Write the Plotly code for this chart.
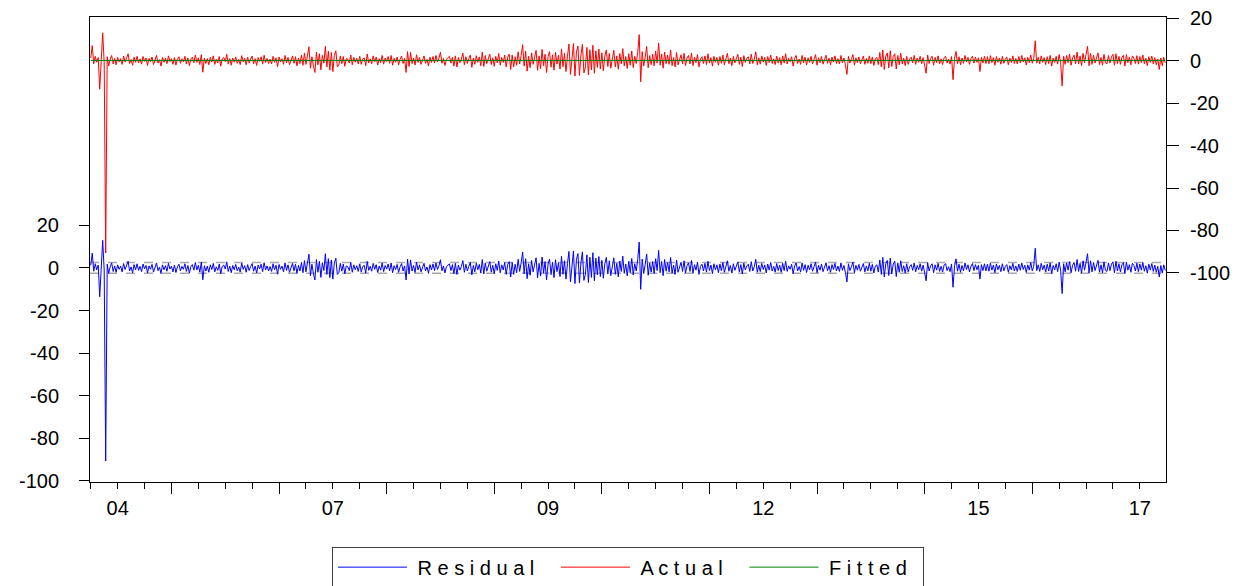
import plotly.graph_objects as go

# ---------------- data ----------------
# Actual series (right axis), one value per sampled observation, left to right
actual = [
    1.2, 7.0, -1.5, 2.0, -0.8, 1.4, -13.5, 2.2, 13.0, -1.0, -90.6, 1.8, -2.5, 0.6, 2.4, -1.6, 1.0, -2.0, 1.5, -0.6,
    0.9, -1.8, 2.1, -0.7, 1.3, 3.2, -1.4, 0.5, -2.2, 1.6, -0.9, 2.0, -1.1, 0.8, -1.7, 1.9, -0.4, 1.2, -2.3, 1.0,
    -0.6, 1.7, -1.9, 0.7, 2.4, -1.2, 0.4, -2.6, 1.5, -0.8, 1.1, -1.5, 2.2, -0.5, 0.9, -1.8, 1.4, -2.1, 0.6, 1.8,
    -1.3, 0.8, -0.6, 2.0, -1.6, 1.2, -2.4, 0.7, 1.6, -1.0, 2.6, -0.9, 1.3, -1.9, 2.8, -5.5, 1.1, -1.4, 0.9, -2.0,
    1.5, -0.7, 2.2, -1.8, 0.6, -1.1, 1.9, -2.7, 0.8, 1.4, -0.5, 2.9, -1.6, 0.9, -2.2, 1.2, -0.8, 1.7, -1.3, 0.5,
    -1.9, 2.3, -0.6, 1.1, -2.0, 1.6, -1.2, 0.7, 2.1, -1.5, 0.9, -2.3, 1.4, -0.4, 1.8, -1.7, 2.5, -0.9, 1.0, -1.4,
    0.7, -1.6, 2.0, -0.8, 1.3, -2.9, 1.7, -0.6, 0.9, -1.8, 2.4, -1.1, 1.5, -2.0, 0.6, 2.2, -1.3, 1.8, -2.5, 1.2,
    -1.4, 2.6, -2.2, 3.5, -1.8, 2.9, 6.5, -3.6, 1.8, -2.6, -5.6, 4.0, -2.0, 3.2, -4.4, 2.5, -1.2, 6.7, -3.0, 4.4,
    -4.5, 3.8, -5.2, 2.4, 4.6, -3.0, -2.2, 2.2, -1.5, 1.9, -2.7, 1.0, 0.6, -1.2, 2.6, -2.0, 1.5, -0.8, 1.1, -1.6,
    2.0, -1.8, 0.7, 1.3, -2.4, 3.1, -1.1, 0.8, -1.5, 2.2, -0.6, 1.6, -2.1, 0.9, -1.0, 2.4, -1.7, 1.2, -0.5, 1.9,
    -1.3, 2.4, -2.2, 1.1, -0.8, 1.7, -2.0, 0.6, 2.1, -1.4, 1.0, -5.6, 4.2, -2.8, 3.8, -1.4, 1.2, -2.1, 2.7, -0.9,
    1.5, -1.8, 0.8, 2.2, -1.3, 0.5, -2.5, 1.6, -0.9, 1.9, -1.2, 2.4, -0.7, 1.1, 3.9, -1.3, 1.0, -2.3, 0.6, 1.4,
    2.0, -1.2, 1.6, -2.6, 2.2, -3.0, 1.4, -1.0, 0.7, 3.5, -2.0, 1.8, -1.4, 0.9, 2.6, -3.2, 1.2, -1.8, 2.3, -0.8,
    1.7, -2.4, 4.0, -2.8, 2.4, -1.5, 0.8, 3.0, -1.9, 1.3, -2.7, 2.0, -1.1, 3.3, -2.2, 1.5, -0.9, 2.6, -3.0, 1.6,
    3.0, -4.2, 2.6, -3.0, 1.8, -2.2, 4.1, -1.6, 2.4, 7.5, -2.6, 4.4, -5.0, 2.0, -3.4, 3.6, -1.8, 1.2, 4.8, -4.6,
    2.2, -3.8, 5.2, -2.4, 3.0, -5.6, 1.9, 4.2, -3.1, 2.7, -4.5, 3.9, -1.7, 2.5, -4.0, 5.5, -2.9, 3.4, -5.2, 2.1,
    7.8, -6.5, 3.2, 8.0, -7.3, 4.1, 6.8, -7.0, 2.5, 7.6, -5.8, -3.0, 6.2, -6.8, 5.1, -4.4, 7.2, -6.0, 4.6, -3.2,
    5.4, -4.0, 3.6, -4.8, 2.1, 5.0, -2.8, 3.4, -3.6, 1.8, 4.8, -3.0, 2.2, -4.1, 3.3, -1.6, 5.6, -2.5, 1.9, -3.7,
    3.2, -2.2, 4.5, -3.3, 2.0, -1.4, 3.9, 12.2, -10.0, 4.2, -2.6, 1.7, 6.6, -3.4, 2.3, -1.9, 3.0, -2.5, 4.4, -1.2,
    8.3, -2.2, 3.1, -3.6, 4.0, -1.5, 2.6, -1.8, 5.0, -2.4, 1.4, -3.0, 3.8, -2.0, 0.9, 2.7, -1.6, 3.4, -2.3, 1.1,
    2.4, -1.6, 3.6, -2.4, 1.6, -1.0, 2.8, -3.0, 0.7, 1.8, -1.4, 2.2, -1.9, 3.2, -1.2, 1.4, -2.6, 2.0, -0.8, 1.5,
    -2.2, 1.9, -1.3, 2.6, -2.0, 0.8, 3.4, -1.5, 1.2, -2.4, 2.0, -1.1, 0.5, 2.9, -1.8, 1.6, -2.8, 2.3, -0.9, 1.0,
    1.8, -1.6, 3.0, -1.4, 0.6, 4.1, -2.0, 1.3, -1.7, 2.2, -0.7, 1.5, -2.3, 1.9, -1.0, 2.6, -1.4, 0.8, -1.9, 2.1,
    -1.2, 1.4, -2.0, 2.2, -1.2, 3.2, -1.6, 1.0, -0.6, 1.8, -2.6, 1.0, 2.4, -1.4, 0.7, -1.8, 2.4, -1.1, 1.6, -2.1,
    1.3, -0.9, 2.0, -1.5, 0.6, 2.8, -2.2, 1.3, -1.0, 1.9, -1.7, 0.8, 2.5, -1.3, 1.1, -2.0, 1.6, -0.7, 2.2, -1.4,
    0.9, -1.6, 2.4, -1.1, 1.2, -2.2, -6.5, 2.0, -1.2, 0.6, 2.8, -2.2, 1.3, -1.0, 1.7, -1.5, 0.8, 2.1, -1.8, 1.0,
    -1.3, 2.2, -1.5, 1.7, -2.3, 0.9, 1.5, -1.9, 3.8, -3.0, 5.0, -4.2, 2.1, 3.6, -3.5, 4.6, -2.8, 1.9, 3.2, -4.0,
    2.4, -2.0, 3.4, -1.6, 1.1, -2.4, 2.0, -1.8, 0.7, 1.6, -1.1, 2.4, -1.8, 1.2, -0.8, 2.0, -1.5, 1.4, -2.2, -6.0,
    2.6, -1.4, 1.0, 2.0, -2.2, 1.5, -1.0, 2.2, -1.6, 0.8, -1.9, 1.3, 2.1, -1.2, 0.6, -1.7, 1.9, -9.0, 1.1, 4.3,
    -1.5, 1.8, -2.0, 1.2, -1.3, 2.4, -0.7, 1.5, -1.8, 0.9, 2.1, -1.2, 1.6, -0.8, 1.3, -5.2, 1.6, -1.2, 2.0, -1.4,
    1.8, -1.5, 2.3, -1.0, 1.4, -2.2, 1.9, -0.8, 1.2, -1.7, 2.0, -1.3, 0.7, 1.6, -2.0, 1.1, -0.9, 2.2, -1.4, 1.0,
    -1.6, 1.9, -1.1, 2.4, -0.7, 1.3, -2.1, 1.5, -1.0, 2.6, -1.3, 0.9, 9.3, -1.2, 1.5, -1.6, 2.2, -0.8, 1.4, -1.9,
    1.8, -1.4, 2.4, -2.6, 1.2, -0.9, 2.0, -1.7, 2.8, -1.0, -12.0, 2.0, -1.8, 2.4, -1.0, 3.0, -2.2, 1.3, 2.6, -1.5,
    4.0, -1.6, 2.2, -2.4, 3.4, -1.0, 2.8, 6.7, -2.4, 3.4, -1.8, 2.6, -1.2, 2.0, 3.6, -1.9, 1.5, -2.2, 2.9, -1.1,
    -1.6, 2.4, -1.2, 1.8, 2.9, -2.2, 3.2, -1.4, 2.0, -1.8, 1.5, 2.5, -2.6, 2.8, -1.0, 1.6, -2.0, 2.2, 1.2, -1.4,
    2.3, -1.7, 1.9, -1.0, 2.6, -1.5, 1.1, -2.4, 1.8, -0.9, 2.1, -1.6, 1.4, -2.0, 0.8, -4.2, 1.2, -2.4, 1.5, -1.1,
]
fitted_level = 0.05          # fitted value (flat, constant mean)
resid_se = 2.5               # +/- one standard error band of residuals

x_tick_text = ["04", "07", "09", "12", "15", "17"]
x_tick_obs = [18, 162, 306, 450, 594, 702]

y_left_ticks = [-100, -80, -60, -40, -20, 0, 20]
y_right_ticks = [-100, -80, -60, -40, -20, 0, 20]

series_names = ["Residual", "Actual", "Fitted"]

# ---------------- derived series ----------------
n = len(actual)
obs = list(range(n))
fitted = [fitted_level] * n
residual = [a - f for a, f in zip(actual, fitted)]

minor_step = 18
all_ticks = list(range(0, n, minor_step))
long_ticks = [t for t in all_ticks if (t - 54) % 72 == 0 and t not in x_tick_obs]
major_ticks = [t for t in all_ticks if t not in long_ticks]
major_text = [x_tick_text[x_tick_obs.index(t)] if t in x_tick_obs else "" for t in major_ticks]


def spaced(s, trail=3):
    return "\u00a0" + " ".join(s) + "\u00a0" * trail


def hyph(v):
    return str(v).replace("\u2212", "-")


FONT = "Liberation Sans, Arial, Helvetica, sans-serif"

fig = go.Figure()
fig.add_trace(go.Scatter(x=obs, y=residual, mode="lines", name=spaced(series_names[0]),
                         line=dict(color="#0000FF", width=1), yaxis="y"))
fig.add_trace(go.Scatter(x=obs, y=actual, mode="lines", name=spaced(series_names[1]),
                         line=dict(color="#FF0000", width=1), yaxis="y2"))
fig.add_trace(go.Scatter(x=obs, y=fitted, mode="lines", name=spaced(series_names[2], 2),
                         line=dict(color="#008000", width=1), yaxis="y2"))

for lvl in (resid_se, -resid_se):
    fig.add_shape(type="line", xref="x", yref="y", x0=-0.5, x1=n - 0.5, y0=lvl, y1=lvl,
                  line=dict(color="#A8A8A8", width=1.5, dash="dash"), layer="below")

fig.update_layout(
    width=1244, height=586,
    margin=dict(l=90, r=78, t=17, b=104, autoexpand=False),
    paper_bgcolor="white", plot_bgcolor="white",
    font=dict(family=FONT, size=20, color="black"),
    showlegend=True,
    legend=dict(orientation="h", x=0.5, xanchor="center", y=-0.139, yanchor="top",
                bordercolor="#404040", borderwidth=1, bgcolor="white",
                font=dict(family=FONT, size=20, color="black"), itemwidth=69,
                traceorder="normal"),
    xaxis=dict(range=[-0.5, n - 0.5], showgrid=False, zeroline=False, automargin=False,
               showline=True, linecolor="black", linewidth=1, mirror=True,
               ticks="outside", ticklen=6, tickcolor="black", tickwidth=1,
               tickmode="array", tickvals=major_ticks, ticktext=major_text,
               tickfont=dict(size=20), ticklabelstandoff=2,
               minor=dict(tickmode="array", tickvals=long_ticks, ticks="outside",
                          ticklen=11, tickcolor="black", tickwidth=1, showgrid=False)),
    yaxis=dict(range=[-100.5, 117.8], showgrid=False, zeroline=False, automargin=False,
               showline=True, linecolor="black", linewidth=1,
               ticks="outside", ticklen=10, tickcolor="black", ticklabelstandoff=16,
               tickmode="array", tickvals=y_left_ticks,
               ticktext=[hyph(v) for v in y_left_ticks], tickfont=dict(size=20)),
    yaxis2=dict(range=[-198.4, 20.5], overlaying="y", side="right", automargin=False,
                showgrid=False, zeroline=False,
                showline=True, linecolor="black", linewidth=1,
                ticks="outside", ticklen=12, tickcolor="black", ticklabelstandoff=7,
                tickmode="array", tickvals=y_right_ticks,
                ticktext=[hyph(v) for v in y_right_ticks], tickfont=dict(size=20)),
)

fig.write_html("out.html", config={"displayModeBar": False},
               post_script="document.body.style.margin='0';")
